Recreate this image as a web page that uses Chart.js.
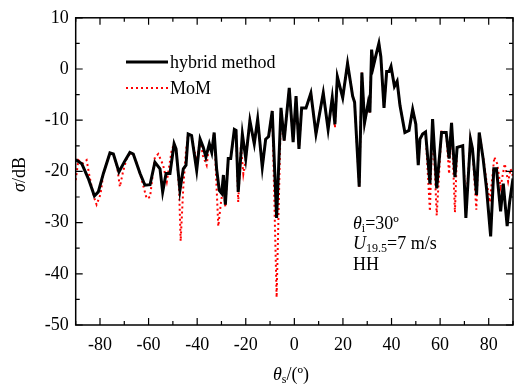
<!DOCTYPE html>
<html>
<head>
<meta charset="utf-8">
<script src="https://cdn.jsdelivr.net/npm/chart.js@4.4.1/dist/chart.umd.min.js"></script>
<style>
  html, body { margin: 0; padding: 0; background: #ffffff; }
  #wrap { width: 519px; height: 385px; position: relative; }
</style>
</head>
<body>
<div id="wrap"><canvas id="rcsChart" width="519" height="385"></canvas></div>
<script>
// Data: sudut hambur (derajat) dan sigma (dB)
const hybridAngle = [
  -90, -87.5, -84.8, -82.3, -80.7, -78.6, -75.9, -74.5, -72.2, -69.7,
  -67.7, -66.3, -63.5, -61.5, -59.4, -57.4, -55.3, -54.2, -52.8, -51.2,
  -49.5, -48.7, -47.1, -45.7, -44.6, -43.7, -42.3, -40.2, -38.8, -37.5,
  -36.4, -35.0, -34.0, -33.0, -32.0, -30.9, -29.9, -29.2, -28.4, -27.2,
  -26.2, -24.7, -24.0, -23.1, -21.4, -20.0, -18.3, -16.5, -15.1, -13.2,
  -11.8, -10.6, -9.1, -7.3, -5.5, -4.2, -2.1, -0.5, 0.7, 1.9,
  3.0, 4.8, 6.8, 8.9, 11.9, 13.9, 15.6, 16.7, 17.7, 19.9,
  21.9, 24.0, 24.8, 26.7, 27.8, 28.9, 30.4, 31.1, 31.8, 32.5,
  33.6, 34.8, 35.6, 36.9, 38.0, 39.0, 39.8, 41.2, 42.3, 43.5,
  45.5, 47.2, 48.7, 50.0, 51.0, 51.7, 52.8, 54.0, 55.8, 56.9,
  58.6, 60.6, 62.5, 63.7, 64.7, 66.1, 67.0, 69.3, 70.6, 72.5,
  73.3, 75.0, 76.1, 77.7, 79.1, 80.8, 82.1, 83.2, 84.9, 86.0,
  87.6, 88.6, 90
];
const hybridSigma = [
  -17.7, -18.5, -21.4, -24.8, -24.0, -20.4, -16.4, -16.6, -20.1, -17.9,
  -16.3, -16.6, -20.4, -22.7, -22.6, -18.2, -19.5, -24.0, -20.4, -20.4,
  -14.6, -15.6, -23.7, -19.5, -18.8, -12.7, -13.0, -19.8, -13.7, -15.3,
  -17.2, -14.6, -16.3, -12.4, -19.5, -23.7, -24.3, -20.7, -26.5, -17.5,
  -17.5, -11.8, -12.0, -24.0, -12.7, -17.5, -10.1, -14.6, -9.8, -19.2,
  -13.7, -13.2, -8.2, -29.1, -7.6, -14.0, -3.7, -14.3, -5.3, -15.6,
  -7.6, -7.6, -4.7, -12.7, -4.7, -11.8, -5.6, -10.8, -1.5, -5.6,
  1.1, -5.3, -6.5, -23.0, -0.7, -10.5, -6.6, -8.5, 3.8, 0.5,
  2.7, 5.0, 2.4, -7.6, -0.5, -0.5, 0.5, -3.4, -2.4, -7.2,
  -12.4, -12.0, -7.9, -10.8, -18.8, -13.7, -12.7, -12.3, -22.4, -9.8,
  -23.3, -12.4, -12.4, -17.5, -10.5, -21.1, -15.3, -15.0, -29.1, -13.7,
  -15.5, -24.6, -12.4, -17.5, -23.3, -32.7, -19.5, -19.5, -27.8, -22.4,
  -30.7, -26.0, -21.4
];

const momAngle = [
  -90, -88.9, -87.2, -85.5, -84.3, -82.5, -81.4, -79.8, -78.6, -75.9,
  -74.5, -73.0, -71.8, -70.5, -69.0, -67.3, -66.0, -63.8, -62.8, -60.8,
  -59.4, -57.4, -56.0, -54.0, -52.5, -50.5, -49.5, -48.5, -47.4, -46.8,
  -45.7, -44.6, -43.7, -42.3, -40.2, -38.8, -37.6, -36.1, -35.0, -34.0,
  -33.0, -32.3, -31.3, -30.2, -29.2, -28.4, -27.2, -26.2, -24.7, -24.0,
  -23.1, -22.0, -21.0, -20.0, -18.3, -16.5, -15.1, -13.2, -11.8, -10.6,
  -9.1, -7.3, -5.5, -4.2, -2.1, -0.5, 0.7, 1.9, 3.0, 4.8,
  6.8, 8.9, 11.9, 13.9, 15.6, 16.7, 17.7, 19.9, 21.9, 24.0,
  24.8, 26.7, 27.8, 28.9, 30.4, 31.1, 31.8, 32.5, 33.6, 34.8,
  35.6, 36.9, 38.0, 39.0, 39.8, 41.2, 42.3, 43.5, 45.5, 47.2,
  48.7, 50.0, 51.0, 51.7, 52.8, 54.0, 55.8, 56.9, 58.6, 60.6,
  62.5, 63.7, 64.7, 66.1, 67.0, 69.3, 70.6, 72.5, 73.3, 74.9,
  76.1, 77.7, 79.1, 80.5, 82.3, 83.5, 84.9, 86.6, 88.0, 89.0,
  90
];
const momSigma = [
  -21.7, -17.8, -18.5, -17.8, -21.0, -25.0, -26.5, -24.5, -20.4, -16.4,
  -16.6, -19.0, -23.0, -20.0, -17.5, -16.3, -16.8, -20.0, -21.7, -25.3,
  -25.0, -17.2, -16.6, -18.8, -22.0, -15.9, -14.6, -16.0, -24.0, -33.6,
  -23.0, -16.0, -12.7, -13.0, -18.2, -13.7, -17.0, -18.8, -14.6, -15.5,
  -12.4, -20.0, -30.7, -26.0, -23.0, -27.0, -17.5, -17.5, -11.8, -12.0,
  -26.0, -15.0, -20.5, -17.5, -10.0, -14.6, -9.8, -19.2, -13.7, -13.2,
  -8.2, -44.6, -7.6, -14.0, -3.7, -14.3, -5.3, -15.6, -7.6, -7.6,
  -4.7, -12.7, -4.7, -11.8, -5.6, -11.5, -1.5, -5.6, 1.1, -5.3,
  -6.5, -23.0, -0.7, -10.5, -6.6, -8.5, 3.8, 0.5, 2.7, 5.0,
  2.4, -7.6, -0.5, -0.5, 0.5, -3.4, -2.4, -7.2, -12.4, -12.0,
  -7.9, -10.8, -18.8, -13.7, -12.7, -12.3, -27.8, -9.8, -28.6, -12.0,
  -12.4, -20.5, -10.5, -28.0, -15.3, -15.0, -27.0, -13.7, -15.5, -27.5,
  -12.4, -17.0, -22.0, -26.0, -17.2, -18.5, -23.0, -18.5, -22.0, -19.5,
  -21.0
];

const xTickValues = [-80, -60, -40, -20, 0, 20, 40, 60, 80];
const yTickValues = [-50, -40, -30, -20, -10, 0, 10];

const SERIF = '"Liberation Serif", "Times New Roman", serif';

// Menggambar teks berurutan dengan subscript / italic.
function drawRuns(ctx, x, y, runs) {
  let cx = x;
  runs.forEach(r => {
    ctx.font = (r.italic ? 'italic ' : '') + (r.size || 18) + 'px ' + SERIF;
    ctx.fillText(r.text, cx, y + (r.dy || 0));
    cx += ctx.measureText(r.text).width;
  });
}

// Plugin untuk bingkai, tick ke dalam, legend dan anotasi.
const framePlugin = {
  id: 'framePlugin',
  afterDraw(chart) {
    const { ctx, chartArea: a, scales } = chart;
    const xs = scales.x, ys = scales.y;
    ctx.save();
    ctx.strokeStyle = '#000';
    ctx.lineWidth = 1.5;
    ctx.strokeRect(a.left, a.top, a.right - a.left, a.bottom - a.top);

    ctx.lineWidth = 1.2;
    ctx.beginPath();
    for (let v = -90; v <= 90; v += 10) {
      const px = xs.getPixelForValue(v);
      const len = (v % 20 === 0) ? 7 : 4;
      ctx.moveTo(px, a.bottom); ctx.lineTo(px, a.bottom - len);
      ctx.moveTo(px, a.top); ctx.lineTo(px, a.top + len);
    }
    for (let v = -50; v <= 10; v += 5) {
      const py = ys.getPixelForValue(v);
      const len = (v % 10 === 0) ? 7 : 4;
      ctx.moveTo(a.left, py); ctx.lineTo(a.left + len, py);
      ctx.moveTo(a.right, py); ctx.lineTo(a.right - len, py);
    }
    ctx.stroke();

    // legend
    ctx.lineWidth = 3;
    ctx.strokeStyle = '#000';
    ctx.beginPath(); ctx.moveTo(126, 62); ctx.lineTo(168, 62); ctx.stroke();
    ctx.strokeStyle = '#ff0000';
    ctx.lineWidth = 2;
    ctx.setLineDash([2, 3]);
    ctx.beginPath(); ctx.moveTo(126, 88); ctx.lineTo(168, 88); ctx.stroke();
    ctx.setLineDash([]);

    ctx.fillStyle = '#000';
    ctx.textBaseline = 'alphabetic';
    ctx.textAlign = 'left';
    drawRuns(ctx, 170, 68, [{ text: 'hybrid method' }]);
    drawRuns(ctx, 170, 94, [{ text: 'MoM' }]);

    // anotasi
    drawRuns(ctx, 353, 229, [
      { text: 'θ', italic: true },
      { text: 'i', size: 12, dy: 3 },
      { text: '=30º' }
    ]);
    drawRuns(ctx, 353, 249, [
      { text: 'U', italic: true },
      { text: '19.5', size: 12, dy: 3 },
      { text: '=7 m/s' }
    ]);
    drawRuns(ctx, 353, 270, [{ text: 'HH' }]);

    // judul sumbu x
    drawRuns(ctx, 273, 380, [
      { text: 'θ', italic: true },
      { text: 's', size: 12, dy: 3 },
      { text: '/(º)' }
    ]);

    // judul sumbu y (diputar)
    ctx.translate(25, 192);
    ctx.rotate(-Math.PI / 2);
    drawRuns(ctx, 0, 0, [
      { text: 'σ', italic: true },
      { text: '/dB' }
    ]);
    ctx.restore();
  }
};

document.addEventListener('DOMContentLoaded', function () {
  const canvas = document.getElementById('rcsChart');
  const ctx = canvas.getContext('2d');

  const hybridPoints = hybridAngle.map((a, i) => ({ x: a, y: hybridSigma[i] }));
  const momPoints = momAngle.map((a, i) => ({ x: a, y: momSigma[i] }));

  new Chart(ctx, {
    type: 'line',
    plugins: [framePlugin],
    data: {
      datasets: [
        {
          label: 'hybrid method',
          data: hybridPoints,
          borderColor: '#000000',
          borderWidth: 3,
          pointRadius: 0,
          tension: 0,
          fill: false
        },
        {
          label: 'MoM',
          data: momPoints,
          borderColor: '#ff0000',
          borderWidth: 2,
          borderDash: [2, 3],
          pointRadius: 0,
          tension: 0,
          fill: false
        }
      ]
    },
    options: {
      responsive: false,
      animation: false,
      devicePixelRatio: 1,
      layout: { padding: { top: 14, right: 6, left: 0, bottom: 0 } },
      plugins: {
        legend: { display: false },
        tooltip: { enabled: false }
      },
      scales: {
        x: {
          type: 'linear',
          min: -90,
          max: 90,
          grid: { display: false, drawTicks: false },
          border: { display: false },
          ticks: {
            color: '#000',
            padding: 9,
            maxRotation: 0,
            autoSkip: false,
            font: { family: SERIF, size: 18 }
          },
          afterBuildTicks: s => { s.ticks = xTickValues.map(v => ({ value: v })); },
          afterFit: s => { s.height = 60; }
        },
        y: {
          min: -50,
          max: 10,
          grid: { display: false, drawTicks: false },
          border: { display: false },
          ticks: {
            color: '#000',
            padding: 7,
            autoSkip: false,
            font: { family: SERIF, size: 18 }
          },
          afterBuildTicks: s => { s.ticks = yTickValues.map(v => ({ value: v })); },
          afterFit: s => { s.width = 75.7; }
        }
      }
    }
  });
});
</script>
</body>
</html>
